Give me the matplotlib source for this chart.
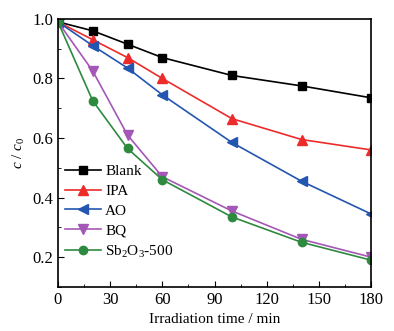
import matplotlib
matplotlib.use("Agg")
import matplotlib.pyplot as plt
from matplotlib.ticker import MultipleLocator

plt.rcParams['font.family'] = ['Liberation Serif', 'DejaVu Serif']
plt.rcParams['mathtext.fontset'] = 'custom'
plt.rcParams['mathtext.rm'] = 'Liberation Serif'
plt.rcParams['mathtext.it'] = 'Liberation Serif:italic'

time = [0, 20, 40, 60, 100, 140, 180]
blank = [0.99, 0.96, 0.915, 0.87, 0.81, 0.775, 0.735]
ipa = [0.99, 0.93, 0.87, 0.80, 0.665, 0.595, 0.56]
ao = [0.99, 0.91, 0.835, 0.745, 0.585, 0.455, 0.345]
bq = [0.99, 0.825, 0.61, 0.47, 0.355, 0.26, 0.20]
sb = [0.99, 0.725, 0.565, 0.46, 0.335, 0.25, 0.19]

fig = plt.figure(figsize=(3.94, 3.31), dpi=100)
ax = fig.add_axes([0.147, 0.133, 0.795, 0.810])

ax.plot(time, blank, '-s', color='black', ms=6, lw=1.2, label='Blank')
ax.plot(time, ipa, '-^', color='#ee2b2b', ms=7, lw=1.2, label='IPA')
ax.plot(time, ao, '-<', color='#2356b0', ms=7, lw=1.2, label='AO')
ax.plot(time, bq, '-v', color='#a557b8', ms=7, lw=1.2, label='BQ')
ax.plot(time, sb, '-o', color='#2e8a3f', ms=6, lw=1.2, label=r'Sb$_2$O$_3$-500')

ax.set_xlim(0, 180)
ax.set_ylim(0.1, 1.0)
ax.xaxis.set_major_locator(MultipleLocator(30))
ax.xaxis.set_minor_locator(MultipleLocator(15))
ax.yaxis.set_major_locator(MultipleLocator(0.2))
ax.yaxis.set_minor_locator(MultipleLocator(0.1))
ax.tick_params(which='both', direction='in', labelsize=12)
ax.tick_params(which='major', length=4)
ax.tick_params(which='minor', length=2.5)
for s in ax.spines.values():
    s.set_linewidth(1.2)

ax.set_xlabel('Irradiation time / min', fontsize=11)
ax.set_ylabel(r'$c\ /\ c_0$', fontsize=11)

ax.legend(loc='lower left', bbox_to_anchor=(-0.02, 0.05), frameon=False, fontsize=11,
          handlelength=2.3, labelspacing=0.4, handletextpad=0.3)

fig.savefig('out.png', dpi=100)
